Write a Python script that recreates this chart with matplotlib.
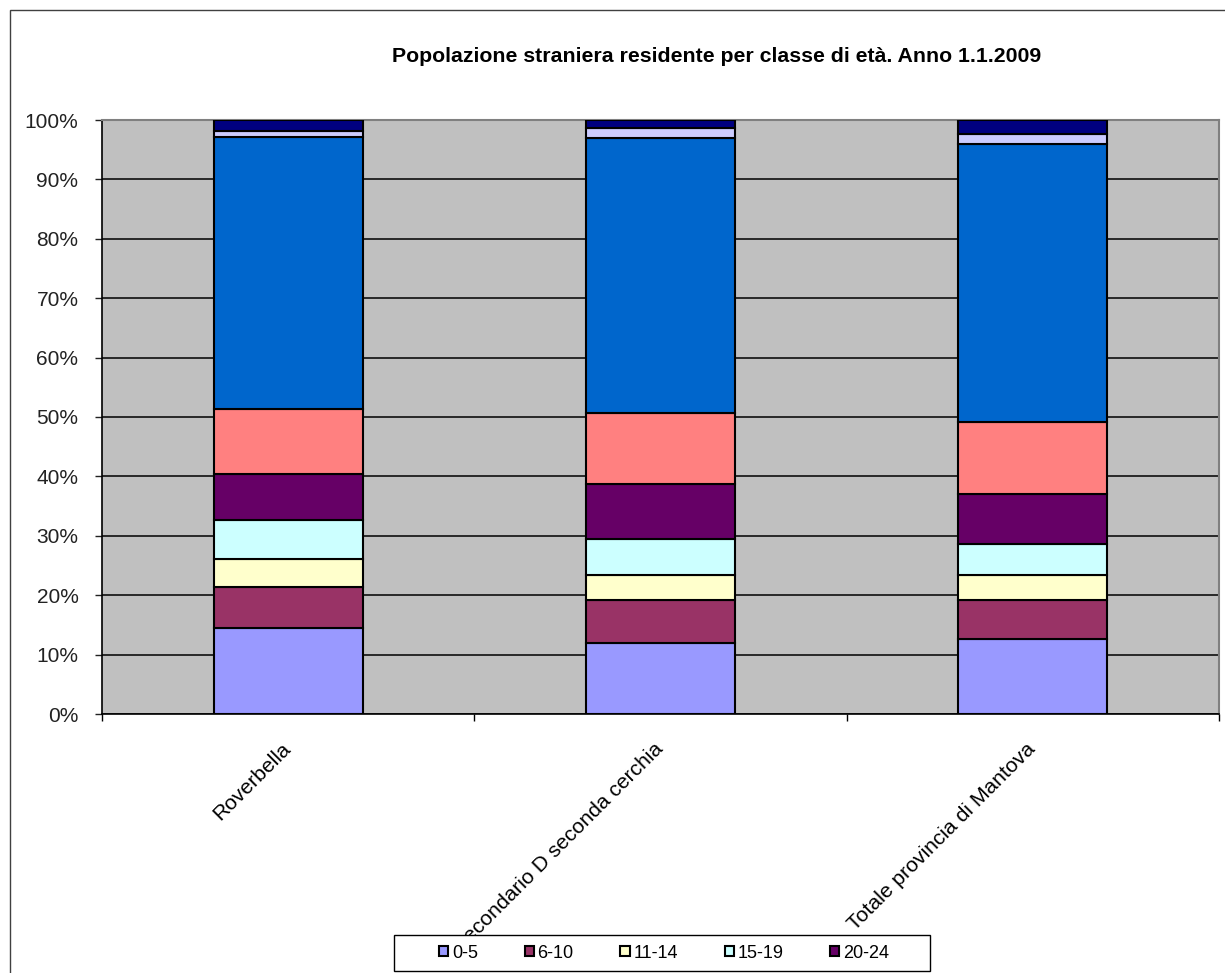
import numpy as np
import matplotlib
matplotlib.use("Agg")
import matplotlib.pyplot as plt
from matplotlib.patches import Rectangle, Patch
from matplotlib.ticker import PercentFormatter, MultipleLocator

plt.rcParams['font.family'] = ['Liberation Sans', 'DejaVu Sans']

# categories and stacked shares (percent), bottom to top
aree = ["Roverbella", "Secondario D seconda cerchia", "Totale provincia di Mantova"]
classi = ["0-5", "6-10", "11-14", "15-19", "20-24", "25-29", "30-59", "60-64", "65+"]
colori = ["#9999FF", "#993366", "#FFFFCC", "#CCFFFF", "#660066",
          "#FF8080", "#0066CC", "#CCCCFF", "#000080"]

roverbella = [14.5, 6.9, 4.7, 6.6, 7.7, 10.9, 45.8, 1.0, 1.9]
secondario = [11.9, 7.3, 4.2, 6.0, 9.3, 12.0, 46.3, 1.6, 1.4]
mantova    = [12.6, 6.6, 4.2, 5.2, 8.4, 12.2, 46.8, 1.6, 2.4]

quote = np.array([roverbella, secondario, mantova])

W, H = 1225, 973
fig = plt.figure(figsize=(W/100, H/100), dpi=100)
ax = fig.add_axes([102/W, 1 - 714/H, (1219 - 102)/W, (714 - 120)/H])
ax.set_facecolor("#C0C0C0")

x = np.arange(len(aree))
base = np.zeros(len(aree))
for j, cl in enumerate(classi):
    ax.bar(x, quote[:, j], 0.4, bottom=base, color=colori[j],
           edgecolor="black", linewidth=1.5, zorder=3, label=cl)
    base += quote[:, j]

ax.set_xlim(-0.5, 2.5)
ax.set_ylim(0, 100)
ax.yaxis.set_major_locator(MultipleLocator(10))
ax.yaxis.set_major_formatter(PercentFormatter(decimals=0))
ax.grid(axis="y", color="black", linewidth=1.1, zorder=1)
ax.set_axisbelow(True)

ax.set_xticks(x)
ax.set_xticklabels(aree, rotation=45, ha="right", va="center",
                   rotation_mode="anchor", fontsize=15.2)
ax.set_xticks([-0.5, 0.5, 1.5, 2.5], minor=True)
ax.tick_params(axis="x", which="major", length=0, pad=23)
ax.tick_params(axis="x", which="minor", length=5, width=1, color="black")
ax.tick_params(axis="y", length=5, width=1, pad=12, labelsize=15, colors="#222222")

for s in ["top", "right"]:
    ax.spines[s].set_color("#808080")
    ax.spines[s].set_linewidth(1.5)
for s in ["left", "bottom"]:
    ax.spines[s].set_color("black")
    ax.spines[s].set_linewidth(1.2)

fig.text(717/W, 1 - 56/H,
         "Popolazione straniera residente per classe di età. Anno 1.1.2009",
         ha="center", va="center", fontsize=15.3, fontweight="bold")

# legend box (covers the start of the long middle label, as in the original)
fig.patches.append(Rectangle((394/W, 1 - 971/H), (930 - 394)/W, 36/H,
                             transform=fig.transFigure, facecolor="white",
                             edgecolor="black", linewidth=1.0, zorder=4))

# legend shows only the first five classes, as in the original
maniglie = [Patch(facecolor=colori[i], edgecolor="black", linewidth=1.5)
            for i in range(5)]
leg = fig.legend(maniglie, classi[:5], ncol=5, loc="center",
                 bbox_to_anchor=(664/W, 1 - 953/H), fontsize=13, frameon=False,
                 handlelength=0.5, handleheight=0.5, handletextpad=0.2,
                 columnspacing=2.6, borderpad=0)
leg.set_zorder(5)

# outer chart border
fig.patches.append(Rectangle((10/W, -0.1), 1.2, 1.1 - 10/H,
                             transform=fig.transFigure, fill=False,
                             edgecolor="#404040", linewidth=1.0))

fig.savefig("out.png", dpi=100)
